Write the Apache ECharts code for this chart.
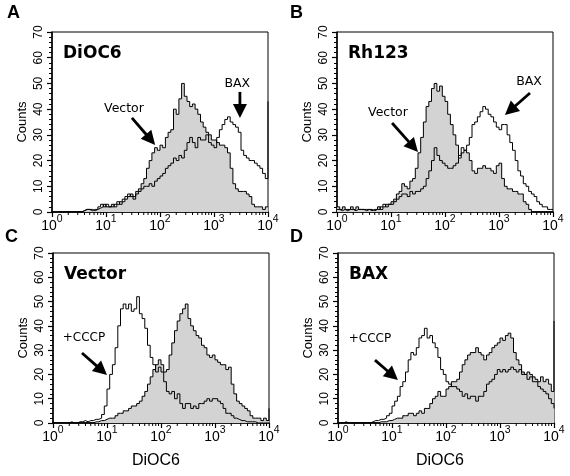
<!DOCTYPE html>
<html>
<head>
<meta charset="utf-8">
<script src="https://cdn.jsdelivr.net/npm/echarts@6/dist/echarts.min.js"></script>
<style>
html,body{margin:0;padding:0;background:#fff;}
#c{width:570px;height:476px;}
</style>
</head>
<body>
<div id="c"></div>
<script>
// ---- data: channel step (decades per bin) and counts per bin (bins from 10^0 to 10^4)
const channelStep = 0.05;
const xTickExponents = [0, 1, 2, 3, 4];
const yTicks = [0, 10, 20, 30, 40, 50, 60, 70];
const panelLetters = ['A', 'B', 'C', 'D'];
const panelTitles = ['DiOC6', 'Rh123', 'Vector', 'BAX'];
const xAxisTitle = 'DiOC6';
const yAxisTitle = 'Counts';

// Panel A: DiOC6 - Vector (filled) and BAX (open)
const aVector = [0,0,0,0,0,0,0,0,0,0, 0,0.5,1,1,1,0.5,1,1.5,2,3, 2,2,3,2,3,4,4,5,6,7,
  6,8,9,11,13,17,20,23,25,24, 26,25,29,31,32,40,38,44,50,45, 43,41,42,40,38,35,33,31,30,28,
  28,27,26,26,25,23,17,11,9,8, 8,8,7,6,3,2,2,2,1,2, 2];
const aBax = [0,0,0,0,0,0,0,0,0,0, 0,0.5,1,1,0.5,1,1,2,3,2, 3,2,2,3,4,3,5,6,7,6,
  5,7,8,9,10,10,11,10,12,13, 14,15,17,18,19,21,20,22,21,24, 27,29,27,25,29,28,28,30,27,26,
  25,29,32,34,36,37,35,34,33,31, 24,22,21,20,20,19,18,17,15,13, 43];
// Panel B: Rh123 - Vector (filled) and BAX (open)
const bVector = [2,1,2,1,1,2,1,2,1,1, 1,1,0.5,1,1,2,1,2,3,3, 4,5,7,8,11,10,9,12,13,17,
  23,29,35,41,43,48,50,47,49,45, 43,38,34,30,26,21,23,24,23,20, 16,15,17,17,18,17,17,16,15,18,
  19,13,10,9,9,8,8,7,7,4, 3,1,0,0,0,0,0,0,0,0, 0];
const bBax = [1,0.5,1,0.5,1,1,0.5,1,1,1, 0.5,1,1,0.5,1,1,2,3,2,3, 3,4,5,6,7,7,6,8,7,8,
  8,9,10,13,16,20,25,22,20,19, 18,17,17,18,19,22,25,24,26,29, 34,35,37,39,41,40,38,37,35,33,
  32,34,34,30,27,24,20,16,14,11, 10,8,7,6,4,3,2,2,1,1, 1];
// Panel C: Vector cells - untreated (filled) and +CCCP (open)
const cControl = [0,0,0,0,0,0,0,0,0,0, 0,0,0,0,0,0.5,0.5,1,1,1.5, 2,2,2,3,4,4,5,5,6,7,
  7,8,9,11,13,16,19,22,24,26, 24,21,22,28,33,38,42,45,47,49, 43,40,38,36,35,32,31,28,27,28,
  26,25,24,24,22,23,16,12,9,8, 7,6,5,3,2,2,2,1,2,1, 6];
const cCccp = [0,0,0,0,0,0,0.5,0,0,0.5, 0.5,1,0.5,1,1,1.5,1.5,2,3.5,7, 14,20,24,31,40,47,49,47,49,46,
  47,52,45,43,39,32,27,24,21,23, 21,17,13,12,13,10,12,8,6,8, 8,6,7,6,8,8,9,10,9,10,
  10,9,8,6,4,4,3,2,1.5,1, 1,0.5,0.5,0.5,0.5,0,0,0,0,0, 0];
// Panel D: BAX cells - untreated (filled) and +CCCP (open)
const dControl = [0,0,0,0,0,0,0,0,0,0, 0,0,0,0,0,0.5,0.5,0.5,1,1, 1.5,2,2,2,3,3,4,4,3,4,
  5,4,6,6,8,10,11,13,11,11, 14,15,17,17,18,21,24,26,28,29, 29,31,29,28,26,28,29,31,32,33,
  35,34,36,37,35,29,26,24,21,20, 21,20,19,18,17,19,17,18,16,13, 42];
const dCccp = [0,0,0.5,0,0,0,0,0,0,0, 0,0,0.5,1,1,1.5,1.5,2,3,4, 7,9,11,15,17,21,26,29,28,31,
  35,36,39,35,36,33,31,27,22,20, 17,16,15,15,14,13,11,12,10,11, 11,9,11,11,13,16,17,18,20,22,
  21,22,21,22,23,22,21,22,20,20, 18,19,17,17,15,14,13,12,10,8, 6];

const filledSets = [aVector, bVector, cControl, dControl];
const openSets = [aBax, bBax, cCccp, dCccp];
const minorMultipliers = [2, 3, 4, 5, 6, 7, 8, 9];

// ---- layout
const grids = [
  {left: 52, top: 32, width: 216, height: 180},
  {left: 337, top: 32, width: 216, height: 180},
  {left: 53, top: 253, width: 216, height: 170},
  {left: 338, top: 253, width: 216, height: 170}
];
const SANS = '"Liberation Sans", Arial, Helvetica, sans-serif';
const DEJAVU = '"DejaVu Sans", sans-serif';

const toPairs = arr => arr.map((v, i) => [i * channelStep, v]);
const minorTickExps = [];
for (let d = xTickExponents[0]; d < xTickExponents[xTickExponents.length - 1]; d++) {
  minorMultipliers.forEach(m => minorTickExps.push(d + Math.log10(m)));
}

const xAxes = [], yAxes = [], series = [];
grids.forEach((g, i) => {
  xAxes.push({
    gridIndex: i, type: 'value',
    min: xTickExponents[0], max: xTickExponents[xTickExponents.length - 1], interval: 1,
    axisLine: {show: true, onZero: false, lineStyle: {color: '#000', width: 1.5}},
    axisTick: {show: true, length: 5, lineStyle: {color: '#000', width: 1.2}},
    splitLine: {show: false},
    axisLabel: {
      show: true, margin: 2, showMinLabel: true, showMaxLabel: true,
      formatter: v => '{b|10}{s|' + v + '}',
      rich: {
        b: {fontSize: 14, fontFamily: SANS, color: '#000', lineHeight: 19, verticalAlign: 'bottom'},
        s: {fontSize: 10.5, fontFamily: SANS, color: '#000', lineHeight: 19, verticalAlign: 'top'}
      }
    }
  });
  yAxes.push({
    gridIndex: i, type: 'value', min: yTicks[0], max: yTicks[yTicks.length - 1], interval: 10,
    axisLine: {show: true, onZero: false, lineStyle: {color: '#000', width: 1.5}},
    axisTick: {show: true, length: 5, lineStyle: {color: '#000', width: 1.2}},
    minorTick: {show: true, splitNumber: 5, length: 3, lineStyle: {color: '#000', width: 1}},
    splitLine: {show: false},
    axisLabel: {rotate: 90, margin: 7, fontSize: 12, fontFamily: SANS, color: '#000',
      showMinLabel: true, showMaxLabel: true},
    name: yAxisTitle, nameLocation: 'middle', nameRotate: 90, nameGap: 23,
    nameTextStyle: {fontSize: 13, fontFamily: SANS, color: '#000'}
  });
  series.push({
    type: 'line', xAxisIndex: i, yAxisIndex: i, data: toPairs(filledSets[i]),
    step: 'end', symbol: 'none', silent: true, z: 2,
    lineStyle: {color: '#000', width: 1},
    areaStyle: {color: '#d3d3d3', opacity: 1}
  });
  series.push({
    type: 'line', xAxisIndex: i, yAxisIndex: i, data: toPairs(openSets[i]),
    step: 'end', symbol: 'none', silent: true, z: 3,
    lineStyle: {color: '#000', width: 1}
  });
  series.push({
    type: 'custom', xAxisIndex: i, yAxisIndex: i, silent: true, clip: false, z: 10,
    data: minorTickExps.map(v => [v, 0]),
    renderItem: (p, api) => {
      const pt = api.coord([api.value(0), 0]);
      return {type: 'line', shape: {x1: pt[0], y1: pt[1], x2: pt[0], y2: pt[1] + 3},
        style: {stroke: '#000', lineWidth: 1}};
    }
  });
});

const chart = echarts.init(document.getElementById('c'), null, {renderer: 'canvas', width: 570, height: 476});
chart.setOption({
  animation: false,
  backgroundColor: '#fff',
  grid: grids.map(g => Object.assign({show: true, borderColor: '#000', borderWidth: 1,
    backgroundColor: 'transparent', containLabel: false, outerBoundsMode: 'none'}, g)),
  xAxis: xAxes,
  yAxis: yAxes,
  series: series
});

// ---- annotations positioned in data space (exponent, count)
const annotations = [
  {g: 0, text: 'Vector', at: [1.333, 40.0], tail: [1.48, 36.6], tip: [1.91, 26.1], size: 12.5},
  {g: 0, text: 'BAX', at: [3.43, 49.8], tail: [3.48, 46.7], tip: [3.48, 36.6], size: 12.5},
  {g: 1, text: 'Vector', at: [0.944, 38.5], tail: [1.02, 34.6], tip: [1.5, 23.3], size: 12.5},
  {g: 1, text: 'BAX', at: [3.556, 50.6], tail: [3.574, 46.3], tip: [3.11, 37.7], size: 12.5},
  {g: 2, text: '+CCCP', at: [0.574, 35.0], tail: [0.537, 28.8], tip: [1.0, 19.8], size: 12},
  {g: 3, text: '+CCCP', at: [0.593, 34.6], tail: [0.685, 25.9], tip: [1.11, 17.7], size: 12}
];
const toPx = (g, p) => chart.convertToPixel({gridIndex: g}, p);
const graphics = [];
annotations.forEach(a => {
  const t = toPx(a.g, a.at);
  graphics.push({type: 'text', silent: true, z: 20, style: {text: a.text, x: t[0], y: t[1],
    font: a.size + 'px ' + DEJAVU, fill: '#000', align: 'center', verticalAlign: 'middle'}});
  const p0 = toPx(a.g, a.tail), p1 = toPx(a.g, a.tip);
  const dx = p1[0] - p0[0], dy = p1[1] - p0[1], L = Math.hypot(dx, dy);
  const ux = dx / L, uy = dy / L, headLen = 14, headHalf = 7;
  const bx = p1[0] - ux * headLen, by = p1[1] - uy * headLen;
  graphics.push({type: 'line', silent: true, z: 20, shape: {x1: p0[0], y1: p0[1], x2: bx + ux, y2: by + uy},
    style: {stroke: '#000', lineWidth: 2.8}});
  graphics.push({type: 'polygon', silent: true, z: 20, shape: {points: [
    [p1[0], p1[1]], [bx - uy * headHalf, by + ux * headHalf], [bx + uy * headHalf, by - ux * headHalf]]},
    style: {fill: '#000'}});
});
// panel letters and titles
const letterPos = [[7, 13.5], [290, 13.5], [5, 237.5], [290, 237.5]];
panelLetters.forEach((L, i) => {
  graphics.push({type: 'text', silent: true, style: {text: L, x: letterPos[i][0], y: letterPos[i][1],
    font: 'bold 18px ' + SANS, fill: '#000', align: 'left', verticalAlign: 'middle'}});
});
panelTitles.forEach((T, i) => {
  const g = grids[i];
  graphics.push({type: 'text', silent: true, z: 20, style: {text: T, x: g.left + 11, y: g.top + 21.5,
    font: 'bold 17px ' + DEJAVU, fill: '#000', align: 'left', verticalAlign: 'middle'}});
});
[2, 3].forEach((gi, k) => {
  const g = grids[gi];
  graphics.push({type: 'text', silent: true, style: {text: xAxisTitle, x: g.left + g.width / 2 - 5 - k,
    y: 461, font: '16px ' + SANS, fill: '#000', align: 'center', verticalAlign: 'middle'}});
});
chart.setOption({graphic: graphics});
</script>
</body>
</html>
